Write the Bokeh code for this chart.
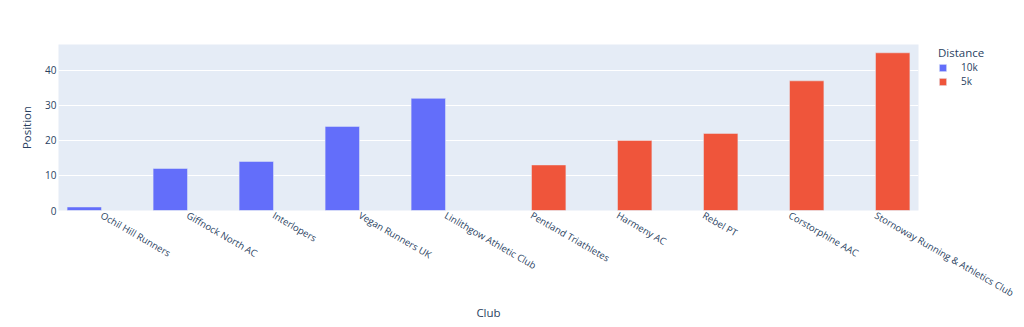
import math
from bokeh.plotting import figure
from bokeh.models import ColumnDataSource, Legend, LegendItem, FactorRange
from bokeh.transform import dodge
from bokeh.embed import file_html
from bokeh.resources import INLINE

clubs = ["Ochil Hill Runners", "Giffnock North AC", "Interlopers", "Vegan Runners UK",
         "Linlithgow Athletic Club", "Pentland Triathletes", "Harmeny AC", "Rebel PT",
         "Corstorphine AAC", "Stornoway Running & Athletics Club"]
clubs_10k = ["Ochil Hill Runners", "Giffnock North AC", "Interlopers", "Vegan Runners UK",
             "Linlithgow Athletic Club"]
pos_10k = [1, 12, 14, 24, 32]
clubs_5k = ["Pentland Triathletes", "Harmeny AC", "Rebel PT", "Corstorphine AAC",
            "Stornoway Running & Athletics Club"]
pos_5k = [13, 20, 22, 37, 45]
y_ticks = [0, 10, 20, 30, 40]

FONT = "Open Sans"
TXT = "#2a3f5f"

p = figure(frame_width=860, frame_height=166, x_range=FactorRange(*clubs), y_range=(0, 47.37),
           output_backend="svg", toolbar_location=None,
           min_border_left=58, min_border_right=106, min_border_top=44, min_border_bottom=4)
p.background_fill_color = "#E5ECF6"
p.border_fill_color = "white"
p.outline_line_color = None

s10 = ColumnDataSource(dict(club=clubs_10k, pos=pos_10k))
s5 = ColumnDataSource(dict(club=clubs_5k, pos=pos_5k))
r10 = p.vbar(x=dodge("club", -0.2, range=p.x_range), top="pos", width=0.4, source=s10,
             fill_color="#636efa", line_color="#E5ECF6", line_width=0.5)
r5 = p.vbar(x=dodge("club", 0.2, range=p.x_range), top="pos", width=0.4, source=s5,
            fill_color="#EF553B", line_color="#E5ECF6", line_width=0.5)

p.xgrid.grid_line_color = None
p.ygrid.grid_line_color = "white"
p.ygrid.grid_line_width = 1
p.ygrid.ticker = y_ticks

p.yaxis.ticker = y_ticks
for ax in (p.xaxis[0], p.yaxis[0]):
    ax.axis_line_color = None
    ax.major_tick_line_color = None
    ax.minor_tick_line_color = None
    ax.major_tick_out = 0
    ax.major_tick_in = 0
    ax.major_label_text_font = FONT
    ax.major_label_text_font_size = "9.5px"
    ax.major_label_text_color = TXT
    ax.axis_label_text_font = FONT
    ax.axis_label_text_font_size = "11.5px"
    ax.axis_label_text_color = TXT
    ax.axis_label_text_font_style = "normal"

p.yaxis.major_label_text_font_size = "10px"
p.xaxis.major_label_orientation = -math.pi / 6
p.xaxis.axis_label = "Club"
p.yaxis.axis_label = "Position"
p.xaxis.major_label_standoff = 4
p.xaxis.axis_label_standoff = -3
p.yaxis.major_label_standoff = 2
p.yaxis.axis_label_standoff = 8

legend = Legend(items=[LegendItem(label="10k", renderers=[r10]),
                       LegendItem(label="5k", renderers=[r5])],
                title="Distance", location=(20, 122))
legend.title_text_font = FONT
legend.title_text_font_size = "11.5px"
legend.title_text_color = TXT
legend.title_text_font_style = "normal"
legend.label_text_font = FONT
legend.label_text_font_size = "10px"
legend.label_text_color = TXT
legend.border_line_color = None
legend.background_fill_alpha = 0
legend.glyph_width = 9
legend.glyph_height = 9
legend.label_height = 14
legend.label_standoff = 14
legend.spacing = 0
legend.padding = 0
legend.margin = 0
legend.title_standoff = 0
p.add_layout(legend, "right")

open("out.html", "w").write(file_html(p, INLINE))
